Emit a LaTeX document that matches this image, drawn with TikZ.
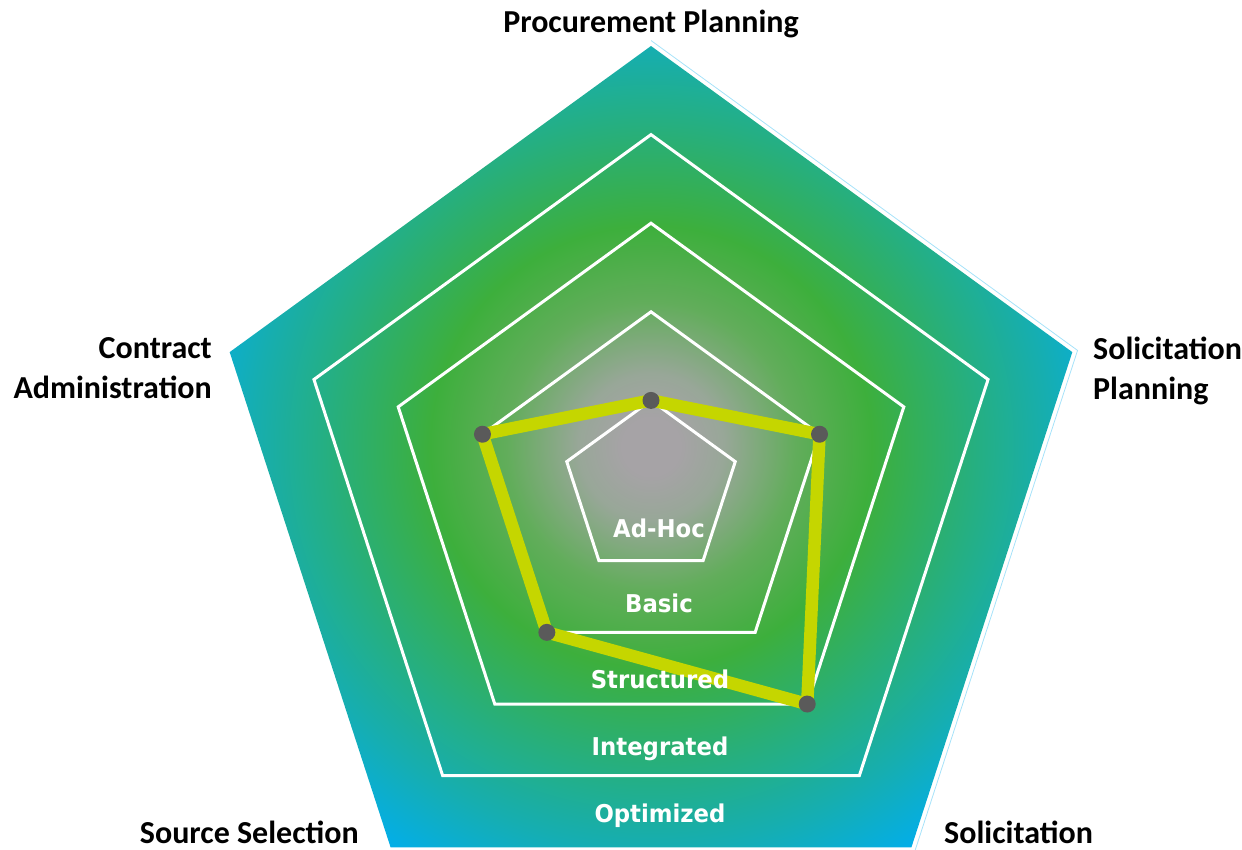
\documentclass[tikz,border=0pt]{standalone}
\usepackage{fontspec}
\setmainfont{Carlito}
\newfontfamily\lvlfont{DejaVu Sans}[FakeStretch=0.93]
\usetikzlibrary{calc}
\definecolor{cgrey}{HTML}{A6A3A6}
\definecolor{cgreyg}{HTML}{98A798}
\definecolor{cgm}{HTML}{62AD5B}
\definecolor{cgreen}{HTML}{3DAF3C}
\definecolor{cgt}{HTML}{25AF82}
\definecolor{cteal}{HTML}{16AEB0}
\definecolor{ccyan}{HTML}{02AEEA}
\definecolor{dataline}{HTML}{C5D600}
\definecolor{dotcol}{HTML}{5A5A5A}
\pgfdeclareradialshading{radar}{\pgfpoint{0bp}{0bp}}{color(0bp)=(cgrey); color(1.5bp)=(cgrey); color(3.8bp)=(cgreyg); color(7.5bp)=(cgm); color(11.5bp)=(cgreen); color(17bp)=(cgt); color(20.75bp)=(cteal); color(25bp)=(ccyan); color(50bp)=(ccyan)}
\tikzset{
  lvlline/.style={draw=white, line width=3pt, line join=miter},
  dataedge/.style={draw=dataline, line width=12.5pt, line join=round},
  datadot/.style={circle, fill=dotcol, minimum size=17pt, inner sep=0pt},
  lvllab/.style={text=white, font=\lvlfont\bfseries\fontsize{24.5}{28}\selectfont, inner sep=0pt, anchor=base},
  outlab/.style={text=black, font=\bfseries\fontsize{32}{40}\selectfont, inner sep=0pt}
}
\begin{document}
\begin{tikzpicture}[x=1pt,y=-1pt]
\useasboundingbox (0,0) rectangle (1242,849);
\coordinate (C) at (651,489);
\coordinate (G) at (651,446.5);
\foreach \l in {1,...,5}{
  \foreach \k/\a in {1/-90,2/-18,3/54,4/126,5/198}{
    \coordinate (L\l-\k) at ($(C)+(\a:\l*88.6)$);
  }
}
\foreach \k/\a in {1/-90,2/-18,3/54}{
  \coordinate (E\k) at ($(C)+(\a:448.5)$);
}
% background shape
\begin{scope}
  \clip (L5-1)--(L5-2)--(L5-3)--(L5-4)--(L5-5)--cycle;
  \path[shading=radar] (G) circle (480pt);
\end{scope}
\draw[cyan!35, line width=0.8pt] (E1)--(E2)--(E3);
% level pentagons
\foreach \l in {1,...,4}{
  \path[lvlline] (L\l-1)--(L\l-2)--(L\l-3)--(L\l-4)--(L\l-5)--cycle;
}
% data
\path[dataedge] (L1-1)--(L2-2)--(L3-3)--(L2-4)--(L2-5)--cycle;
\node[datadot] (d1) at (L1-1) {};
\node[datadot] (d2) at (L2-2) {};
\node[datadot] (d3) at (L3-3) {};
\node[datadot] (d4) at (L2-4) {};
\node[datadot] (d5) at (L2-5) {};
% level labels
\node[lvllab] (t1) at (659,537) {Ad-Hoc};
\node[lvllab] (t2) at (659,612) {Basic};
\node[lvllab] (t3) at (660,688) {Structured};
\node[lvllab] (t4) at (660,755) {Integrated};
\node[lvllab] (t5) at (660,822) {Optimized};
% axis labels
\node[outlab, anchor=base] (a1) at (651,32) {Procurement Planning};
\node[outlab, anchor=north west, align=left] (a2) at (1093,336.5) {Solicitation\\Planning};
\node[outlab, anchor=base west] (a3) at (944,843) {Solicitation};
\node[outlab, anchor=base east] (a4) at (359,843) {Source Selection};
\node[outlab, anchor=north east, align=right] (a5) at (212,337.5) {Contract\\Administration};
\end{tikzpicture}
\end{document}
